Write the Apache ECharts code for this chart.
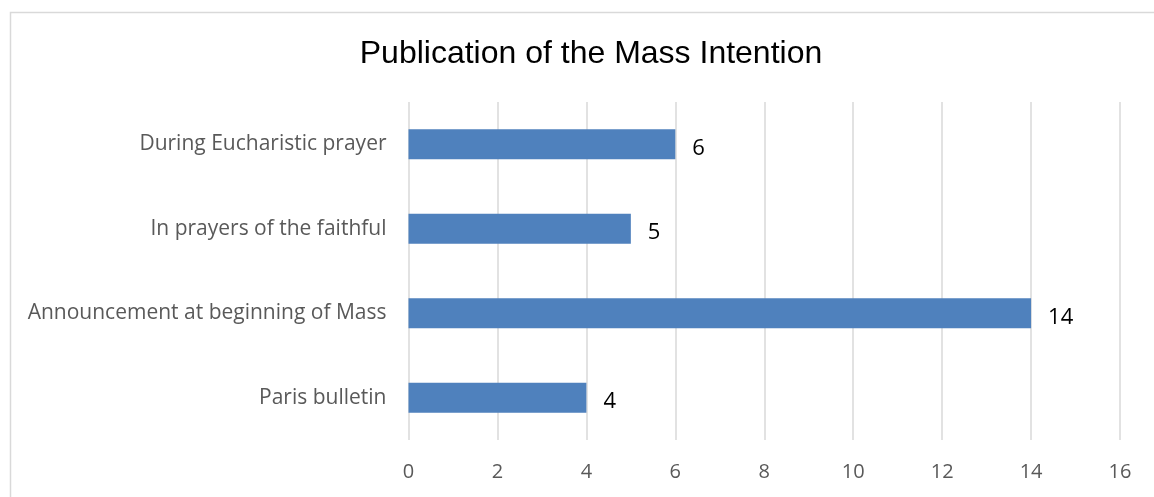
<!DOCTYPE html>
<html><head><meta charset="utf-8">
<script src="https://cdn.jsdelivr.net/npm/echarts@6/dist/echarts.min.js"></script>
<style>html,body{margin:0;padding:0;background:#fff}#c{width:1154px;height:497px}</style>
</head><body><div id="c"></div>
<script>
const categories = ["Paris bulletin", "Announcement at beginning of Mass", "In prayers of the faithful", "During Eucharistic prayer"];
const values = [4, 14, 5, 6];
const xTicks = [0, 2, 4, 6, 8, 10, 12, 14, 16];

const chart = echarts.init(document.getElementById('c'), null, {renderer: 'canvas'});
chart.setOption({
  backgroundColor: '#fff',
  animation: false,
  graphic: [{
    type: 'rect', shape: {x: 10.5, y: 12.5, width: 1160, height: 500},
    style: {fill: 'none', stroke: '#D9D9D9', lineWidth: 1.5}, silent: true
  }],
  title: {
    text: 'Publication of the Mass Intention',
    left: 586, top: 33, textAlign: 'center',
    textStyle: {fontFamily: 'Liberation Sans', fontSize: 32, fontWeight: 'normal', color: '#000'}
  },
  grid: {left: 408.5, right: 34, top: 102, bottom: 57, containLabel: false},
  xAxis: {
    type: 'value', min: xTicks[0], max: xTicks[xTicks.length - 1], interval: 2,
    axisLine: {show: false}, axisTick: {show: false},
    splitLine: {show: true, lineStyle: {color: '#D9D9D9', width: 1.5}},
    axisLabel: {color: '#595959', fontFamily: 'Open Sans', fontSize: 20, margin: 22}
  },
  yAxis: {
    type: 'category', data: categories,
    axisLine: {show: false}, axisTick: {show: false},
    axisLabel: {color: '#595959', fontFamily: 'Open Sans', fontSize: 21, margin: 22, padding: [4, 0, 0, 0]}
  },
  series: [{
    type: 'bar', data: values, barWidth: '35.5%',
    itemStyle: {color: '#4F81BD'},
    label: {show: true, position: 'right', distance: 17, offset: [0, 4], color: '#000', fontFamily: 'Open Sans', fontSize: 22}
  }]
});
</script></body></html>
